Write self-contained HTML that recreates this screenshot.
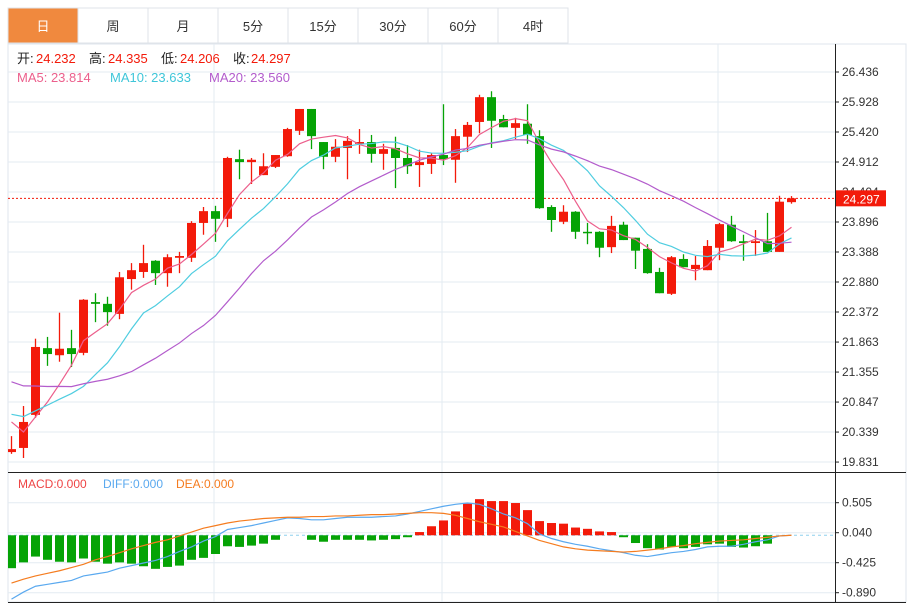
<!DOCTYPE html>
<html><head><meta charset="utf-8">
<style>
body{margin:0;background:#fff;width:920px;height:604px;overflow:hidden;font-family:"Liberation Sans","Noto Sans CJK SC",sans-serif;}
svg text{font-family:"Liberation Sans","Noto Sans CJK SC",sans-serif;}
</style></head>
<body>
<svg id="c" width="920" height="604" xmlns="http://www.w3.org/2000/svg">
<g id="tabs"></g>
<rect x="8" y="44" width="898" height="558" fill="none" stroke="#dfe5ec"/>
<g id="grid"></g>
<g id="main" clip-path="url(#clipMain)"></g>
<g id="macd" clip-path="url(#clipMacd)"></g>
<g id="axes"></g>
<g id="legend"></g>
<defs>
<clipPath id="clipMain"><rect x="8" y="44" width="827" height="428"/></clipPath>
<clipPath id="clipMacd"><rect x="8" y="473" width="827" height="129"/></clipPath>
</defs>
</svg>
<script>
const tabLabels=["日","周","月","5分","15分","30分","60分","4时"];
const priceTicks=[26.436,25.928,25.420,24.912,24.404,23.896,23.388,22.880,22.372,21.863,21.355,20.847,20.339,19.831];
const macdTicks=[0.505,0.040,-0.425,-0.890];
const opens=[20.00,20.07,20.63,21.76,21.64,21.76,21.68,22.54,22.51,22.34,22.93,23.05,23.24,23.03,23.29,23.29,23.88,24.08,23.95,24.96,24.91,24.69,24.83,25.01,25.44,25.81,25.25,25.00,25.15,25.22,25.25,25.05,25.15,24.98,24.86,24.88,25.03,24.95,25.34,25.59,26.01,25.64,25.49,25.56,25.35,24.15,23.90,24.07,23.73,23.73,23.47,23.85,23.63,23.44,23.05,22.68,23.27,23.10,23.08,23.46,23.85,23.57,23.54,23.57,23.39,24.232];
const highs=[20.27,20.78,21.92,21.95,22.36,22.07,22.59,22.69,22.63,23.05,23.20,23.51,23.25,23.35,23.39,23.91,24.15,24.17,25.00,25.12,24.98,25.06,25.03,25.49,25.81,25.81,25.25,25.30,25.35,25.47,25.37,25.22,25.34,25.20,25.12,25.06,25.89,25.47,25.59,26.05,26.11,25.71,25.66,25.89,25.45,24.18,24.18,24.08,23.88,23.74,24.00,23.90,23.63,23.52,23.12,23.32,23.35,23.32,23.59,23.88,24.00,23.68,23.76,24.05,24.34,24.335];
const lows=[19.97,19.90,20.58,21.46,21.53,21.44,21.64,22.20,22.14,22.25,22.75,22.95,22.83,22.80,23.03,23.22,23.68,23.56,23.81,24.62,24.54,24.69,24.81,25.00,25.37,25.13,24.79,24.91,24.62,25.05,24.90,24.78,24.47,24.71,24.49,24.71,24.86,24.56,25.08,25.40,25.15,25.50,25.30,25.22,24.12,23.73,23.86,23.61,23.52,23.30,23.37,23.59,23.10,23.02,22.69,22.66,23.13,22.91,23.08,23.25,23.56,23.24,23.32,23.39,23.39,24.206];
const closes=[20.05,20.51,21.78,21.66,21.75,21.66,22.58,22.51,22.37,22.96,23.08,23.20,23.03,23.30,23.32,23.88,24.08,23.95,24.98,24.91,24.95,24.84,25.03,25.47,25.81,25.35,25.00,25.17,25.27,25.25,25.05,25.13,24.98,24.84,24.91,25.03,24.96,25.35,25.54,26.01,25.61,25.50,25.57,25.37,24.13,23.93,24.07,23.73,23.71,23.46,23.83,23.59,23.41,23.03,22.69,23.30,23.13,23.17,23.49,23.86,23.57,23.54,23.57,23.39,24.24,24.297];
const priorCloses=[21.9,21.8,21.85,21.7,21.75,21.6,21.7,21.65,21.8,21.65,20.9,20.8,20.7,20.75,20.7,21.36,20.5,20.4,20.24];
const macdHist=[-0.51,-0.42,-0.33,-0.38,-0.41,-0.42,-0.36,-0.41,-0.44,-0.42,-0.44,-0.48,-0.52,-0.49,-0.47,-0.38,-0.35,-0.29,-0.17,-0.18,-0.16,-0.13,-0.07,0,0,-0.07,-0.10,-0.07,-0.07,-0.07,-0.08,-0.07,-0.06,-0.03,0.05,0.14,0.23,0.37,0.49,0.56,0.53,0.53,0.50,0.39,0.22,0.19,0.18,0.12,0.10,0.06,0.05,-0.03,-0.12,-0.20,-0.22,-0.18,-0.20,-0.18,-0.14,-0.13,-0.18,-0.19,-0.17,-0.13,0,0];
const diffLine=[-0.99,-0.88,-0.79,-0.76,-0.73,-0.70,-0.63,-0.60,-0.57,-0.51,-0.47,-0.43,-0.39,-0.33,-0.25,-0.18,-0.09,-0.02,0.09,0.12,0.15,0.19,0.23,0.27,0.26,0.24,0.24,0.26,0.28,0.28,0.28,0.29,0.30,0.33,0.37,0.41,0.45,0.48,0.50,0.48,0.41,0.33,0.27,0.18,0.02,-0.05,-0.10,-0.14,-0.17,-0.21,-0.24,-0.27,-0.31,-0.33,-0.30,-0.27,-0.25,-0.22,-0.18,-0.17,-0.17,-0.14,-0.10,-0.07,-0.01,0];
const deaLine=[-0.74,-0.68,-0.63,-0.59,-0.55,-0.50,-0.45,-0.38,-0.33,-0.27,-0.21,-0.16,-0.11,-0.07,-0.01,0.05,0.11,0.15,0.19,0.22,0.24,0.26,0.27,0.28,0.28,0.29,0.29,0.30,0.30,0.31,0.32,0.32,0.33,0.34,0.35,0.35,0.34,0.31,0.26,0.21,0.17,0.13,0.06,-0.01,-0.08,-0.13,-0.18,-0.21,-0.23,-0.24,-0.25,-0.26,-0.25,-0.23,-0.21,-0.18,-0.16,-0.13,-0.11,-0.09,-0.08,-0.07,-0.05,-0.03,-0.01,0];

const NS="http://www.w3.org/2000/svg";
function mk(tag,attrs,parent,text){const e=document.createElementNS(NS,tag);for(const k in attrs)e.setAttribute(k,attrs[k]);if(text!==undefined)e.textContent=text;parent.appendChild(e);return e;}
const xOf=i=>11.5+12*i;
const yP=p=>72+(26.436-p)*30/0.508;
const yM=v=>502.7+(0.505-v)*30/0.465;
const RED="#f31a0a",GREEN="#05a305";

// tabs
const tabs=document.getElementById('tabs');
tabLabels.forEach((t,i)=>{
  const g=mk('g',{},tabs);
  
  
  const act=i===0;
  mk('rect',{x:8+70*i,y:8,width:70,height:35,fill:act?"#f0893e":"#fff",stroke:"#dfe3e8"},g);
  mk('text',{x:43+70*i,y:31,'text-anchor':'middle','font-size':13,fill:act?"#fff":"#333"},g,t);
});

// grid
const grid=document.getElementById('grid');
const axes=document.getElementById('axes');
priceTicks.forEach(p=>{
  const y=yP(p);
  mk('line',{x1:8,x2:835,y1:y,y2:y,stroke:"#e3ebf2"},grid);
  const t=mk('text',{x:842,y:y+4,'font-size':12,fill:"#333"},axes,p.toFixed(3));
  
  
});
macdTicks.forEach(v=>{
  const y=yM(v);
  mk('line',{x1:8,x2:835,y1:y,y2:y,stroke:"#e3ebf2"},grid);
  const t=mk('text',{x:842,y:y+4,'font-size':12,fill:"#333"},axes,(v>=0?"":"")+v.toFixed(3));
  
  
});
[214,442,718].forEach(x=>{mk('line',{x1:x,x2:x,y1:44,y2:602,stroke:"#e3ebf2"},grid);});
mk('line',{x1:835.5,x2:835.5,y1:44,y2:602,stroke:"#222"},axes);
mk('line',{x1:8,x2:906,y1:472.5,y2:472.5,stroke:"#222"},axes);
mk('line',{x1:8,x2:906,y1:602.5,y2:602.5,stroke:"#222"},axes);
priceTicks.forEach(p=>mk('line',{x1:835,x2:839,y1:yP(p),y2:yP(p),stroke:"#222"},axes));
macdTicks.forEach(v=>mk('line',{x1:835,x2:839,y1:yM(v),y2:yM(v),stroke:"#222"},axes));

// candles
const main=document.getElementById('main');
const last=closes[closes.length-1];
const ly=yP(last);
mk('line',{x1:8,x2:835,y1:ly,y2:ly,stroke:RED,'stroke-dasharray':'2,2'},main);
closes.forEach((c,i)=>{
  const o=opens[i],up=c>=o,col=up?RED:GREEN,x=xOf(i);
  const g=mk('g',{},main);
  
  
  mk('line',{x1:x,x2:x,y1:yP(highs[i]),y2:yP(lows[i]),stroke:col,'stroke-width':1.3},g);
  const top=yP(Math.max(o,c)),bot=yP(Math.min(o,c));
  mk('rect',{x:x-4.5,y:top,width:9,height:Math.max(bot-top,1.5),fill:col},g);
});
// moving averages
const all=priorCloses.concat(closes);
function ma(n){return closes.map((_,i)=>{const j=i+priorCloses.length;let s=0;for(let k=j-n+1;k<=j;k++)s+=all[k];return s/n;});}
[[5,"#ec5f8c","ma5-line"],[10,"#4fcde0","ma10-line"],[20,"#b35ccc","ma20-line"]].forEach(([n,col,name])=>{
  const vals=ma(n);
  const pl=mk('polyline',{points:vals.map((v,i)=>xOf(i)+','+yP(v)).join(' '),fill:'none',stroke:col,'stroke-width':1.2},main);
  
  
});
// last price box
const box=mk('g',{},axes);


mk('rect',{x:836,y:ly-8,width:50,height:16,fill:RED},box);
mk('text',{x:843,y:ly+5,'font-size':12,fill:"#fff"},box,last.toFixed(3));

// MACD
const macd=document.getElementById('macd');
const z=yM(0);
mk('line',{x1:8,x2:835,y1:z,y2:z,stroke:"#8fd0ee",'stroke-dasharray':'3,3'},macd);
macdHist.forEach((v,i)=>{
  if(v===0)return;
  const y=yM(v);
  const r=mk('rect',{x:xOf(i)-4.5,y:Math.min(y,z),width:9,height:Math.abs(y-z),fill:v>0?RED:GREEN},macd);
  
  
});
const dl=mk('polyline',{points:diffLine.map((v,i)=>xOf(i)+','+yM(v)).join(' '),fill:'none',stroke:"#5aa9ef",'stroke-width':1.2},macd);


const el2=mk('polyline',{points:deaLine.map((v,i)=>xOf(i)+','+yM(v)).join(' '),fill:'none',stroke:"#f57c1f",'stroke-width':1.2},macd);



// legends
const lg=document.getElementById('legend');
function tx(x,y,s,col,name){const t=mk('text',{x:x,y:y,'font-size':13,fill:col},lg,s);return t;}
tx(17,63,"开:","#222","open-label");tx(36,63,"24.232",RED,"open-value");
tx(89,63,"高:","#222","high-label");tx(108,63,"24.335",RED,"high-value");
tx(161,63,"低:","#222","low-label");tx(180,63,"24.206",RED,"low-value");
tx(233,63,"收:","#222","close-label");tx(251,63,"24.297",RED,"close-value");
tx(17,82,"MA5: 23.814","#ec5f8c","ma5-legend");
tx(110,82,"MA10: 23.633","#3fc6d9","ma10-legend");
tx(209,82,"MA20: 23.560","#b35ccc","ma20-legend");
const m1=tx(18,488,"MACD:0.000","#ee4444","macd-legend");m1.setAttribute('font-size',12);
const m2=tx(103,488,"DIFF:0.000","#5aa9ef","diff-legend");m2.setAttribute('font-size',12);
const m3=tx(176,488,"DEA:0.000","#f57c1f","dea-legend");m3.setAttribute('font-size',12);
</script>
</body></html>
